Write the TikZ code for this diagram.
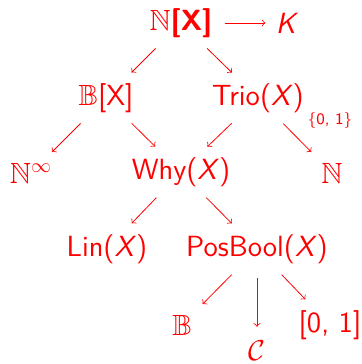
\documentclass[tikz,border=0pt]{standalone}
\usepackage{amsmath}
\usepackage{amssymb}
\usepackage{xcolor}
\usepackage{tikz}
\usetikzlibrary{arrows, positioning}
\tikzstyle{arrow} = [red, ->, shorten <=6pt, shorten >=6pt]
\tikzstyle{semi}  = [text=red, font=\sffamily\fontsize{14.6}{17}\selectfont, inner sep=1pt]
\tikzset{every node/.style={align=center}}

\begin{document}
\begin{tikzpicture}[x=0.5pt, y=-0.5pt]
  \useasboundingbox (0,0) rectangle (361,364);

  % Top: provenance polynomials
  \node[semi] (nx)   at (181,23)  {$\mathbb{N}$\textbf{[X]}};
  \node[semi] (k)    at (287,23)  {\textit{K}};

  % Second row
  \node[semi] (bx)   at (106,98)  {$\mathbb{B}$[X]};
  \node[semi] (trio) at (258,98)  {Trio(\textit{X})};
  \node[text=red, font=\footnotesize] (set01) at (330,120) {$\{\textsf{0, 1}\}$};

  % Third row
  \node[semi] (ninf) at (31,173)  {$\mathbb{N}^{\infty}$};
  \node[semi] (why)  at (181,172) {Why(\textit{X})};
  \node[semi] (nat)  at (332,173) {$\mathbb{N}$};

  % Fourth row
  \node[semi] (lin)  at (107,249) {Lin(\textit{X})};
  \node[semi] (pos)  at (257,249) {PosBool(\textit{X})};

  % Bottom row
  \node[semi] (bb)   at (182,325) {$\mathbb{B}$};
  \node[semi] (cc)   at (257,351) {$\mathcal{C}$};
  \node[semi] (unit) at (330,325) {[0, 1]};

  % Homomorphisms
  \draw[arrow, shorten <=5pt, shorten >=4pt] (nx) -- (k);
  \draw[arrow] (nx) -- (bx);
  \draw[arrow] (nx) -- (trio);
  \draw[arrow] (bx) -- (ninf);
  \draw[arrow] (bx) -- (why);
  \draw[arrow] (trio) -- (why);
  \draw[arrow] (trio) -- (nat);
  \draw[arrow] (why) -- (lin);
  \draw[arrow] (why) -- (pos);
  \draw[arrow] (pos) -- (bb);
  \draw[arrow] (pos) -- (cc);
  \draw[arrow] (pos) -- (unit);
\end{tikzpicture}
\end{document}
